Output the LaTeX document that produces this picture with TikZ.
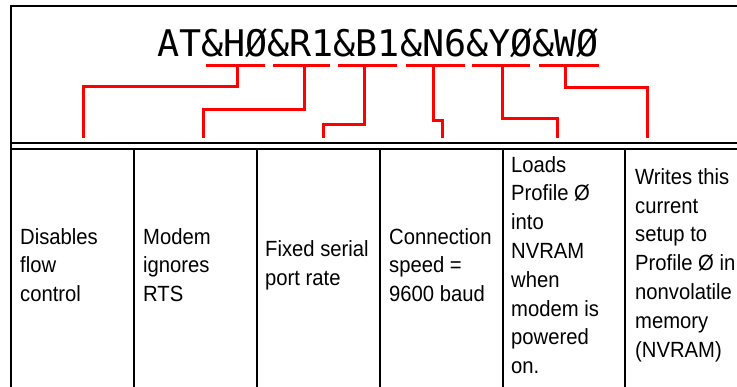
\documentclass[tikz,border=0pt]{standalone}
\usepackage{fontspec}
\setmainfont{Liberation Sans}[FakeStretch=0.92]
\newfontfamily\cmdfont{DejaVu Sans Mono}
\usepackage{tikz}

\begin{document}
\begin{tikzpicture}[x=1pt,y=-1pt,
  frame/.style={black,line width=2pt},
  link/.style={red,line width=3pt},
  cmd/.style={inner sep=0pt,font=\cmdfont\fontsize{36.7}{40}\selectfont},
  cell/.style={anchor=west,align=left,inner sep=0pt,
    font=\fontsize{22}{28.8}\selectfont}]
\useasboundingbox (0,0) rectangle (737,387);
\clip (0,0) rectangle (737,387);
% frame and table
\draw[frame] (11,395) -- (11,6) -- (750,6);
\draw[frame] (11,143) -- (750,143);
\draw[frame] (11,149.5) -- (750,149.5);
\draw[frame] (134,149.5) -- (134,395);
\draw[frame] (257,149.5) -- (257,395);
\draw[frame] (380,149.5) -- (380,395);
\draw[frame] (503,149.5) -- (503,395);
\draw[frame] (625,149.5) -- (625,395);
% the command
\node[cmd,anchor=base] (cmd) at (378,57) {AT\&HØ\&R1\&B1\&N6\&YØ\&WØ};
% underlines
\draw[link] (206,66) -- (265,66);
\draw[link] (273,66) -- (330,66);
\draw[link] (338,66) -- (397,66);
\draw[link] (406,66) -- (465,66);
\draw[link] (472,66) -- (530,66);
\draw[link] (539,66) -- (599,66);
\coordinate (tapH) at (237,66);
\coordinate (tapR) at (304,66);
\coordinate (tapB) at (364,66);
\coordinate (tapN) at (433,66);
\coordinate (tapY) at (502,66);
\coordinate (tapW) at (565,66);
% the cells
\node[cell] (flow) at (20,265) {Disables\\flow\\control};
\node[cell] (rts) at (143,265) {Modem\\ignores\\RTS};
\node[cell] (rate) at (265,265) {Fixed serial\\port rate};
\node[cell] (speed) at (389,265) {Connection\\speed =\\9600 baud};
\node[cell] (load) at (511,265) {Loads\\Profile Ø\\into\\NVRAM\\when\\modem is\\powered\\on.};
\node[cell] (write) at (635,265) {Writes this\\current\\setup to\\Profile Ø in\\nonvolatile\\memory\\(NVRAM)};
\coordinate (endH) at (83,138);
\coordinate (endR) at (203,138);
\coordinate (endB) at (323,138);
\coordinate (endN) at (442,138);
\coordinate (endY) at (557,138);
\coordinate (endW) at (647,138);
% connectors
\draw[link] (tapH) -- ++(0,21) -| (endH);
\draw[link] (tapR) -- ++(0,44) -| (endR);
\draw[link] (tapB) -- ++(0,59) -| (endB);
\draw[link] (tapN) -- ++(0,55) -| (endN);
\draw[link] (tapY) -- ++(0,53) -| (endY);
\draw[link] (tapW) -- ++(0,22) -| (endW);
\end{tikzpicture}
\end{document}
